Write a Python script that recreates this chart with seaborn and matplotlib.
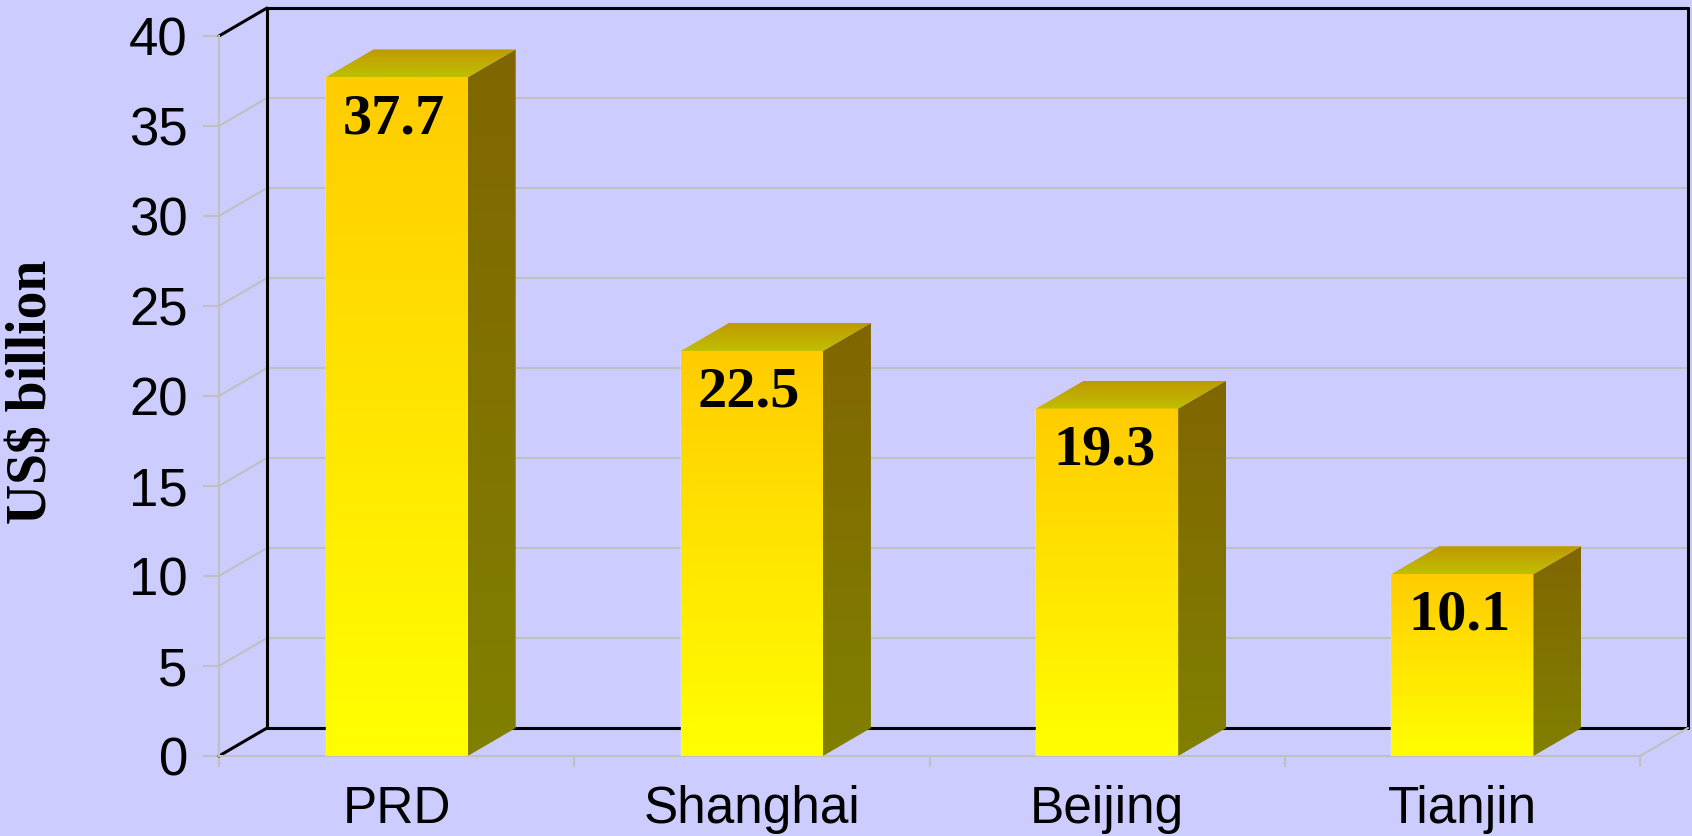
import numpy as np
import pandas as pd
import matplotlib
matplotlib.use("Agg")
import matplotlib.pyplot as plt
import seaborn as sns
from matplotlib.patches import Polygon
from matplotlib.colors import LinearSegmentedColormap

# data
regions = ["PRD", "Shanghai", "Beijing", "Tianjin"]
investment = [37.7, 22.5, 19.3, 10.1]
y_ticks = [0, 5, 10, 15, 20, 25, 30, 35, 40]

df = pd.DataFrame({"region": regions, "value": investment})

sns.set_style("white")
plt.rcParams['font.family'] = ['Liberation Sans', 'DejaVu Sans']

bg = "#CCCCFF"
grey = "#C0C0C0"

fig = plt.figure(figsize=(16.92, 8.36), dpi=100, facecolor=bg)
ax = fig.add_axes([219 / 1692, 80 / 836, 1421 / 1692, 720 / 836])
ax.set_facecolor("none")

sns.barplot(data=df, x="region", y="value", width=0.4, color="#FFFF00",
            ax=ax, zorder=3, saturation=1)
bars = list(ax.patches)

ax.set_xlim(-0.5, 3.5)
ax.set_ylim(0, 40)

# depth of the fake 3d box, in data units
ddx = 48 / 355.25
ddy = 28 / 18

front_cmap = LinearSegmentedColormap.from_list("front", ["#FFFF00", "#FFCC00"])
side_cmap = LinearSegmentedColormap.from_list("side", ["#808000", "#806600"])
top_cmap = LinearSegmentedColormap.from_list("top", ["#BFBF00", "#C09900"])
grad = np.linspace(0, 1, 256).reshape(-1, 1)

# walls and grid
x0w, x1w = -0.5, 3.5
for v in y_ticks[1:-1]:
    ax.plot([x0w + ddx, x1w + ddx], [v + ddy, v + ddy], color=grey, lw=1.5, zorder=1, clip_on=False)
    ax.plot([x0w, x0w + ddx], [v, v + ddy], color=grey, lw=1.5, zorder=1, clip_on=False)
ax.plot([x0w + ddx, x1w + ddx], [40 + ddy, 40 + ddy], color="black", lw=2.2, zorder=1, clip_on=False)
ax.plot([x0w + ddx, x1w + ddx], [ddy, ddy], color="black", lw=2.2, zorder=1, clip_on=False)
ax.plot([x0w + ddx, x0w + ddx], [ddy, 40 + ddy], color="black", lw=2.2, zorder=1, clip_on=False)
ax.plot([x1w + ddx, x1w + ddx], [ddy, 40 + ddy], color="black", lw=2.2, zorder=1, clip_on=False)
ax.plot([x0w, x0w + ddx], [40, 40 + ddy], color="black", lw=2.2, zorder=1, clip_on=False)
ax.plot([x0w, x0w + ddx], [0, ddy], color="black", lw=2.2, zorder=1, clip_on=False)
ax.plot([x1w, x1w + ddx], [0, ddy], color=grey, lw=1.5, zorder=1, clip_on=False)

# shade the bars
for patch, v in zip(bars, investment):
    bx = patch.get_x()
    bw = patch.get_width()
    bh = patch.get_height()
    ax.imshow(grad, extent=[bx, bx + bw, 0, bh], cmap=front_cmap, origin="lower",
              aspect="auto", zorder=3)
    side = Polygon([(bx + bw, 0), (bx + bw + ddx, ddy), (bx + bw + ddx, bh + ddy), (bx + bw, bh)],
                   closed=True, facecolor="none", edgecolor="none", transform=ax.transData)
    im = ax.imshow(grad, extent=[bx + bw, bx + bw + ddx, 0, bh + ddy], cmap=side_cmap,
                   origin="lower", aspect="auto", zorder=3)
    im.set_clip_path(side)
    top = Polygon([(bx, bh), (bx + bw, bh), (bx + bw + ddx, bh + ddy), (bx + ddx, bh + ddy)],
                  closed=True, facecolor="none", edgecolor="none", transform=ax.transData)
    im = ax.imshow(grad, extent=[bx, bx + bw + ddx, bh, bh + ddy], cmap=top_cmap,
                   origin="lower", aspect="auto", zorder=3)
    im.set_clip_path(top)
    ax.annotate(f"{v}", (bx + bw / 2, bh), xytext=(-2, -30), textcoords="offset points",
                ha="center", va="center", fontsize=42, fontweight="bold",
                family=["Liberation Serif", "DejaVu Serif"], color="black", zorder=5)

ax.set_xlim(-0.5, 3.5)
ax.set_ylim(0, 40)

# axes styling
for s in ["top", "right"]:
    ax.spines[s].set_visible(False)
ax.spines["left"].set_color(grey)
ax.spines["bottom"].set_color(grey)
ax.spines["left"].set_linewidth(1.5)
ax.spines["bottom"].set_linewidth(1.5)

ax.set_yticks(y_ticks)
ax.tick_params(axis="y", length=11.5, width=1.5, color=grey, pad=11, labelsize=38,
               labelcolor="black", left=True)
ax.set_xticks(range(len(regions)))
ax.set_xticklabels(regions)
ax.tick_params(axis="x", which="major", length=0, pad=21, labelsize=37, labelcolor="black")
ax.set_xticks([-0.5, 0.5, 1.5, 2.5, 3.5], minor=True)
ax.tick_params(axis="x", which="minor", length=8, width=1.5, color=grey, bottom=True)
ax.set_xlabel("")
ax.set_ylabel("US$ billion", fontsize=40, fontweight="bold", color="black",
              family=["Liberation Serif", "DejaVu Serif"], va="center")
ax.yaxis.set_label_coords(-0.131, 0.506)

fig.savefig("out.png", dpi=100, facecolor=bg)
